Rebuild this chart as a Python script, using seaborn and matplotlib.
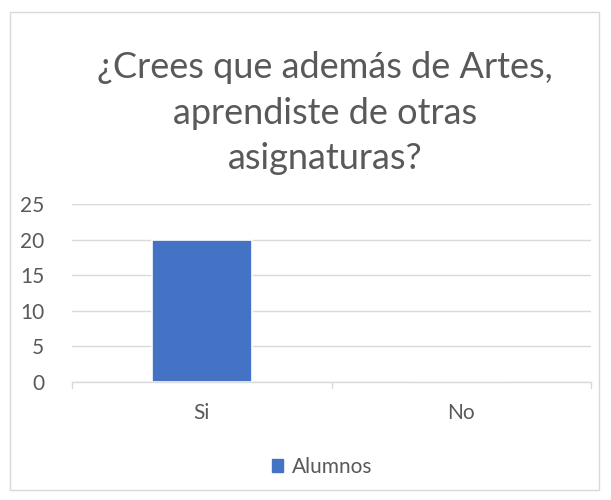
import matplotlib
matplotlib.use("Agg")
import matplotlib.pyplot as plt
import seaborn as sns
import pandas as pd
from matplotlib.patches import Rectangle

categories = ["Si", "No"]
alumnos = [20, 0]
series_name = "Alumnos"
title = "¿Crees que además de Artes,\naprendiste de otras\nasignaturas?"
yticks = [0, 5, 10, 15, 20, 25]

sns.set_theme(style="white")
plt.rcParams['font.family'] = ['Lato', 'DejaVu Sans']

df = pd.DataFrame({"cat": categories, "val": alumnos})

fig = plt.figure(figsize=(6.11, 5.0), dpi=100)
ax = fig.add_axes([72/611, 1-382/500, (591-72)/611, (382-204)/500])

sns.barplot(data=df, x="cat", y="val", color="#4472C4", width=0.386,
            edgecolor="white", linewidth=1.2, ax=ax, saturation=1)

ax.set_ylim(0, 25)
ax.set_xlim(-0.5, 1.5)
ax.set_yticks(yticks)
ax.set_yticklabels([str(t) for t in yticks], fontsize=15, color="#595959")
ax.set_xticks([0, 1])
ax.set_xticklabels(categories, fontsize=15, color="#595959")
ax.set_xlabel("")
ax.set_ylabel("")
ax.yaxis.grid(True, color="#D9D9D9", linewidth=1)
ax.set_axisbelow(True)
for s in ["top", "right", "left"]:
    ax.spines[s].set_visible(False)
ax.spines["bottom"].set_color("#D9D9D9")
ax.spines["bottom"].set_linewidth(1)
ax.tick_params(axis="y", length=0, pad=20)
ax.tick_params(axis="x", length=0, pad=15)
for xb in [-0.5, 0.5, 1.5]:
    ax.plot([xb, xb], [0, -0.9], color="#D9D9D9", lw=1, clip_on=False)

fig.text(325/611, 1-113/500, title, ha="center", va="center", fontsize=26,
         color="#595959", linespacing=1.45)

handle = Rectangle((0, 0), 1, 1, color="#4472C4")
fig.legend([handle], [series_name], loc="center", bbox_to_anchor=(322/611, 1-467/500),
           frameon=False, fontsize=15, handlelength=0.55, handleheight=0.55,
           handletextpad=0.4, labelcolor="#595959")

fig.patches.append(Rectangle((10/611, 10/500), 589/611, 478/500, transform=fig.transFigure,
                             fill=False, edgecolor="#D9D9D9", linewidth=1))

fig.savefig("out.png", dpi=100)
